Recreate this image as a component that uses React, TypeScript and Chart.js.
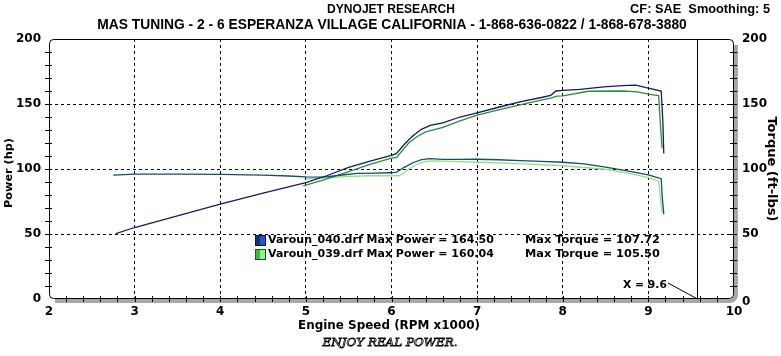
import React, { useEffect, useRef } from "react";
import { Chart, registerables } from "chart.js";

Chart.register(...registerables);

// ---- data (read from the dyno sheet) ----
const powerRpm040 = [2.78, 3.0, 3.5, 4.0, 4.5, 5.0, 5.25, 5.5, 5.75, 6.0, 6.06, 6.15, 6.25, 6.35, 6.45, 6.6, 6.8, 7.0, 7.25, 7.5, 7.75, 7.86, 7.92, 8.0, 8.2, 8.48, 8.7, 8.85, 9.0, 9.15, 9.17, 9.18];
const power040 = [50.3, 55, 64, 73, 81.5, 89.5, 95, 101.3, 106, 110.5, 112, 119, 125.5, 130.5, 133.5, 135.5, 140, 143.2, 147.5, 151.6, 155, 156.7, 160, 160.5, 161.3, 163.1, 164.2, 164.5, 162.3, 160, 135, 112];

const torqueRpm040 = [2.75, 3.0, 3.5, 4.0, 4.5, 4.8, 5.0, 5.2, 5.4, 5.6, 5.8, 6.0, 6.06, 6.15, 6.25, 6.35, 6.45, 6.6, 6.8, 7.0, 7.25, 7.5, 7.75, 8.0, 8.25, 8.5, 8.75, 9.0, 9.15, 9.16, 9.18];
const torque040 = [95.3, 96.0, 96.0, 95.8, 95.3, 94.6, 94.0, 93.8, 95.2, 96.6, 96.9, 97.1, 97.6, 101.3, 104.8, 107.2, 108.0, 107.4, 107.4, 107.5, 107.1, 106.5, 105.8, 105.2, 104.0, 101.5, 98.5, 95.5, 92.6, 80, 65.2];

const powerRpm039 = [4.97, 5.2, 5.5, 5.75, 6.0, 6.06, 6.2, 6.3, 6.4, 6.6, 6.8, 7.0, 7.25, 7.5, 7.75, 7.86, 7.93, 8.0, 8.3, 8.71, 8.87, 9.0, 9.12, 9.14, 9.16];
const power039 = [87, 91.5, 98, 103.5, 108.3, 109, 120, 125, 128.5, 132, 137, 141.5, 145.5, 149.4, 153, 154.6, 156, 156.3, 159.8, 160, 159.3, 157.6, 156.4, 135, 115.9];

const torqueRpm039 = [5.0, 5.25, 5.5, 5.75, 6.0, 6.1, 6.2, 6.3, 6.4, 6.5, 6.7, 7.0, 7.5, 8.0, 8.5, 8.8, 9.0, 9.12, 9.14, 9.16];
const torque039 = [92.5, 93.2, 94.4, 94.8, 94.8, 95.0, 99.8, 103.8, 105.8, 106.3, 105.8, 105.2, 104.2, 102.5, 99.8, 96.2, 93.4, 90.6, 78, 66];

const xTickLabels = [2, 3, 4, 5, 6, 7, 8, 9, 10];
const yTickLabels = [0, 50, 100, 150, 200];

const runNames = ["Varoun_040.drf", "Varoun_039.drf"];
const maxPower = ["164.50", "160.04"];
const maxTorque = ["107.72", "105.50"];

const cursorRpm = 9.57;
const cursorLabel = "X = 9.6";

const title = "DYNOJET RESEARCH";
const subtitle = "MAS TUNING - 2 - 6 ESPERANZA VILLAGE CALIFORNIA - 1-868-636-0822 / 1-868-678-3880";
const corner = "CF: SAE  Smoothing: 5";
const xTitle = "Engine Speed (RPM x1000)";
const yTitle = "Power (hp)";
const y2Title = "Torque (ft-lbs)";
const footer = "ENJOY REAL POWER.";

const C_PWR_040 = "#101e62";
const C_TRQ_040 = "#1d4a66";
const C_PWR_039 = "#2f8a3a";
const C_TRQ_039 = "#8fe08f";

function pts(xs: number[], ys: number[]) {
  return xs.map((x, i) => ({ x, y: ys[i] }));
}

function drawFit(ctx: CanvasRenderingContext2D, text: string, x: number, y: number, width: number, font: string, align: CanvasTextAlign) {
  ctx.font = font.replace("{s}", "20");
  const w = ctx.measureText(text).width;
  const s = (20 * width) / w;
  ctx.font = font.replace("{s}", s.toFixed(2));
  ctx.textAlign = align;
  ctx.fillText(text, x, y);
}

const decorPlugin = {
  id: "dynoDecor",
  afterDraw(chart: any) {
    const ctx: CanvasRenderingContext2D = chart.ctx;
    const { left: L, right: R, top: T, bottom: B } = chart.chartArea;
    const xs = chart.scales.x;
    const ys = chart.scales.y;
    ctx.save();

    // cursor line
    const cx = Math.round(xs.getPixelForValue(cursorRpm)) + 0.5;
    ctx.strokeStyle = "#000";
    ctx.lineWidth = 1;
    ctx.beginPath();
    ctx.moveTo(cx, T);
    ctx.lineTo(cx, B);
    ctx.stroke();

    // gray shadow right & bottom
    ctx.strokeStyle = "#a8a8a8";
    ctx.lineWidth = 4;
    ctx.beginPath();
    ctx.moveTo(R + 2, T + 6);
    ctx.lineTo(R + 2, B - 4);
    ctx.arcTo(R + 2, B + 2, R - 4, B + 2, 6);
    ctx.lineTo(L + 6, B + 2);
    ctx.stroke();

    // black frame
    ctx.strokeStyle = "#000";
    ctx.lineWidth = 1;
    const l = L + 0.5, r = R - 0.5, t = T + 0.5, b = B - 0.5, rad = 4;
    ctx.beginPath();
    ctx.moveTo(l, b - rad);
    ctx.lineTo(l, t + rad);
    ctx.arcTo(l, t, l + rad, t, rad);
    ctx.lineTo(r - rad, t);
    ctx.arcTo(r, t, r, t + rad, rad);
    ctx.lineTo(r, b - rad);
    ctx.arcTo(r, b, r - rad, b, rad);
    ctx.lineTo(l + rad, b);
    ctx.arcTo(l, b, l, b - rad, rad);
    ctx.stroke();

    // ticks
    ctx.beginPath();
    for (let v = 10; v < 200; v += 10) {
      const py = Math.round(ys.getPixelForValue(v)) + 0.5;
      ctx.moveTo(L - 4, py);
      ctx.lineTo(L + 3, py);
      ctx.moveTo(R - 4, py);
      ctx.lineTo(R + 3, py);
    }
    for (let k = 1; k < 40; k++) {
      const px = Math.round(xs.getPixelForValue(2 + k * 0.2)) + 0.5;
      ctx.moveTo(px, B - 3);
      ctx.lineTo(px, B + 3);
    }
    ctx.stroke();

    // tick labels
    ctx.fillStyle = "#000";
    ctx.textBaseline = "middle";
    ctx.font = "bold 12px 'DejaVu Sans'";
    for (const v of yTickLabels) {
      const py = ys.getPixelForValue(v);
      ctx.textAlign = "right";
      ctx.fillText(String(v), L - 8, py);
      ctx.textAlign = "left";
      ctx.fillText(String(v), R + 8, py + (v === 0 ? 3 : 0));
    }
    ctx.textAlign = "center";
    for (const v of xTickLabels) {
      const px = xs.getPixelForValue(v);
      ctx.fillText(String(v), px, B + 13);
    }

    // titles
    drawFit(ctx, title, 391, 10, 128, "bold {s}px 'Liberation Sans'", "center");
    drawFit(ctx, subtitle, 392, 25, 590, "bold {s}px 'Liberation Sans'", "center");
    drawFit(ctx, corner, 770, 9, 140, "bold {s}px 'Liberation Sans'", "right");
    drawFit(ctx, xTitle, 389, 326, 182, "bold {s}px 'DejaVu Sans'", "center");

    ctx.save();
    ctx.translate(9, 173);
    ctx.rotate(-Math.PI / 2);
    drawFit(ctx, yTitle, 0, 0, 70, "bold {s}px 'DejaVu Sans'", "center");
    ctx.restore();
    ctx.save();
    ctx.translate(771, 169);
    ctx.rotate(Math.PI / 2);
    drawFit(ctx, y2Title, 0, 0, 105, "bold {s}px 'DejaVu Sans'", "center");
    ctx.restore();

    // footer (outlined italic)
    ctx.save();
    ctx.font = "italic 13px 'DejaVu Serif'";
    const fw = ctx.measureText(footer).width;
    const fs = (13 * 135) / fw;
    ctx.font = `italic ${fs.toFixed(2)}px 'DejaVu Serif'`;
    ctx.textAlign = "center";
    ctx.lineWidth = 0.8;
    ctx.strokeStyle = "#000";
    ctx.strokeText(footer, 390, 343);
    ctx.restore();

    // legend
    const boxCols = [
      ["#0b1550", "#16308a", "#2a55c8"],
      ["#1a5a1a", "#3cb83c", "#8ef08e"],
    ];
    for (let i = 0; i < runNames.length; i++) {
      const y = 240 + i * 14;
      const bx = 255, by = y - 5;
      ctx.fillStyle = boxCols[i][0];
      ctx.fillRect(bx, by, 11, 11);
      ctx.fillStyle = boxCols[i][1];
      ctx.fillRect(bx + 1, by + 1, 9, 9);
      ctx.fillStyle = boxCols[i][2];
      ctx.fillRect(bx + 5, by + 1, 5, 9);
      ctx.fillStyle = "#000";
      drawFit(ctx, `${runNames[i]} Max Power = ${maxPower[i]}`, 268, y, 226, "bold {s}px 'DejaVu Sans'", "left");
      drawFit(ctx, `Max Torque = ${maxTorque[i]}`, 525, y, 135, "bold {s}px 'DejaVu Sans'", "left");
    }

    // cursor label
    ctx.fillStyle = "#000";
    drawFit(ctx, cursorLabel, 623, 285, 44, "bold {s}px 'DejaVu Sans'", "left");
    ctx.lineWidth = 1;
    ctx.beginPath();
    ctx.moveTo(668, 283);
    ctx.lineTo(cx, B);
    ctx.stroke();

    ctx.restore();
  },
};

export default function App() {
  const ref = useRef<HTMLCanvasElement | null>(null);
  useEffect(() => {
    if (!ref.current) return;
    const gridColor = (lo: number, hi: number) => (c: any) =>
      c.tick && c.tick.value > lo && c.tick.value < hi ? "#000" : "rgba(0,0,0,0)";
    const chart = new Chart(ref.current, {
      type: "line",
      data: {
        datasets: [
          { label: "Power 040", data: pts(powerRpm040, power040), borderColor: C_PWR_040, yAxisID: "y" },
          { label: "Torque 040", data: pts(torqueRpm040, torque040), borderColor: C_TRQ_040, yAxisID: "y2" },
          { label: "Power 039", data: pts(powerRpm039, power039), borderColor: C_PWR_039, yAxisID: "y" },
          { label: "Torque 039", data: pts(torqueRpm039, torque039), borderColor: C_TRQ_039, yAxisID: "y2" },
        ].map((d) => ({ ...d, borderWidth: 1.3, pointRadius: 0, tension: 0, fill: false })),
      },
      options: {
        responsive: false,
        animation: false,
        devicePixelRatio: 1,
        layout: { padding: { left: 49, right: 47, top: 39, bottom: 57 } },
        plugins: { legend: { display: false }, tooltip: { enabled: false } },
        scales: {
          x: {
            type: "linear",
            min: 2,
            max: 10,
            ticks: { display: false, stepSize: 1 },
            grid: { color: gridColor(2, 10), drawTicks: false, lineWidth: 1 },
            border: { display: false, dash: [3, 3] },
          },
          y: {
            type: "linear",
            min: 0,
            max: 200,
            ticks: { display: false, stepSize: 50 },
            grid: { color: gridColor(0, 200), drawTicks: false, lineWidth: 1 },
            border: { display: false, dash: [3, 3] },
          },
          y2: { type: "linear", min: 0, max: 200, display: false, position: "right" },
        },
      },
      plugins: [decorPlugin],
    });
    return () => chart.destroy();
  }, []);
  return (
    <div style={{ position: "fixed", left: 0, top: 0, width: 781, height: 356, background: "#fff" }}>
      <canvas ref={ref} width={781} height={356} style={{ display: "block" }} />
    </div>
  );
}
